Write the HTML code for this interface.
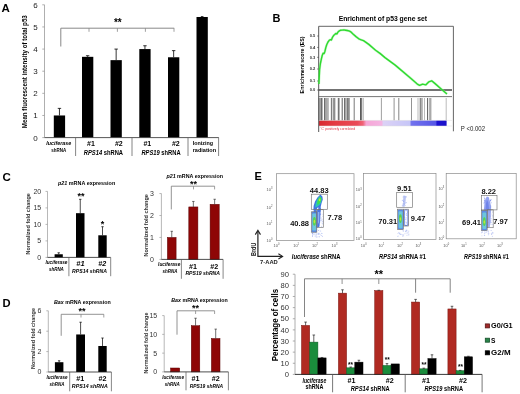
<!DOCTYPE html>
<html><head><meta charset="utf-8"><style>
html,body{margin:0;padding:0;background:#fff;width:520px;height:394px;overflow:hidden}
svg{display:block;font-family:"Liberation Sans",sans-serif;filter:blur(0.3px)}
</style></head><body>
<svg width="520" height="394" viewBox="0 0 520 394">
<rect width="520" height="394" fill="#fff"/>
<text x="1.60" y="11.60" font-size="11.5" font-weight="bold">A</text>
<line x1="44.50" y1="4.80" x2="44.50" y2="137.60" stroke="#9a9a9a" stroke-width="0.8"/>
<line x1="42.30" y1="137.60" x2="44.50" y2="137.60" stroke="#9a9a9a" stroke-width="0.8"/>
<text x="37.60" y="140.60" font-size="8.0" text-anchor="end" fill="#222">0</text>
<line x1="42.30" y1="115.47" x2="44.50" y2="115.47" stroke="#9a9a9a" stroke-width="0.8"/>
<text x="37.60" y="118.47" font-size="8.0" text-anchor="end" fill="#222">1</text>
<line x1="42.30" y1="93.34" x2="44.50" y2="93.34" stroke="#9a9a9a" stroke-width="0.8"/>
<text x="37.60" y="96.34" font-size="8.0" text-anchor="end" fill="#222">2</text>
<line x1="42.30" y1="71.21" x2="44.50" y2="71.21" stroke="#9a9a9a" stroke-width="0.8"/>
<text x="37.60" y="74.21" font-size="8.0" text-anchor="end" fill="#222">3</text>
<line x1="42.30" y1="49.08" x2="44.50" y2="49.08" stroke="#9a9a9a" stroke-width="0.8"/>
<text x="37.60" y="52.08" font-size="8.0" text-anchor="end" fill="#222">4</text>
<line x1="42.30" y1="26.95" x2="44.50" y2="26.95" stroke="#9a9a9a" stroke-width="0.8"/>
<text x="37.60" y="29.95" font-size="8.0" text-anchor="end" fill="#222">5</text>
<line x1="42.30" y1="4.82" x2="44.50" y2="4.82" stroke="#9a9a9a" stroke-width="0.8"/>
<text x="37.60" y="7.82" font-size="8.0" text-anchor="end" fill="#222">6</text>
<text x="26.60" y="128.20" font-size="7.4" font-weight="bold" textLength="113.00" lengthAdjust="spacingAndGlyphs" transform="rotate(-90 26.60 128.20)">Mean fluorescent intensity of total p53</text>
<rect x="53.80" y="115.47" width="11.30" height="22.13" fill="#000"/>
<line x1="59.45" y1="115.47" x2="59.45" y2="108.39" stroke="#000" stroke-width="0.8"/>
<line x1="57.75" y1="108.39" x2="61.15" y2="108.39" stroke="#000" stroke-width="0.8"/>
<rect x="82.00" y="56.83" width="11.30" height="80.77" fill="#000"/>
<line x1="87.65" y1="56.83" x2="87.65" y2="55.72" stroke="#000" stroke-width="0.8"/>
<line x1="85.95" y1="55.72" x2="89.35" y2="55.72" stroke="#000" stroke-width="0.8"/>
<rect x="110.50" y="60.14" width="11.30" height="77.45" fill="#000"/>
<line x1="116.15" y1="60.14" x2="116.15" y2="49.08" stroke="#000" stroke-width="0.8"/>
<line x1="114.45" y1="49.08" x2="117.85" y2="49.08" stroke="#000" stroke-width="0.8"/>
<rect x="139.30" y="49.08" width="11.30" height="88.52" fill="#000"/>
<line x1="144.95" y1="49.08" x2="144.95" y2="45.76" stroke="#000" stroke-width="0.8"/>
<line x1="143.25" y1="45.76" x2="146.65" y2="45.76" stroke="#000" stroke-width="0.8"/>
<rect x="168.00" y="57.27" width="11.30" height="80.33" fill="#000"/>
<line x1="173.65" y1="57.27" x2="173.65" y2="50.63" stroke="#000" stroke-width="0.8"/>
<line x1="171.95" y1="50.63" x2="175.35" y2="50.63" stroke="#000" stroke-width="0.8"/>
<rect x="196.50" y="16.99" width="11.30" height="120.61" fill="#000"/>
<line x1="200.85" y1="16.55" x2="203.45" y2="16.55" stroke="#000" stroke-width="0.8"/>
<line x1="44.50" y1="137.60" x2="218.80" y2="137.60" stroke="#444" stroke-width="0.9"/>
<line x1="75.60" y1="137.60" x2="75.60" y2="156.00" stroke="#666" stroke-width="0.8"/>
<line x1="132.00" y1="137.60" x2="132.00" y2="156.00" stroke="#666" stroke-width="0.8"/>
<line x1="188.00" y1="137.60" x2="188.00" y2="156.00" stroke="#666" stroke-width="0.8"/>
<line x1="218.60" y1="137.60" x2="218.60" y2="156.00" stroke="#666" stroke-width="0.8"/>
<line x1="60.80" y1="28.20" x2="174.20" y2="28.20" stroke="#888" stroke-width="1.0"/>
<line x1="60.80" y1="28.20" x2="60.80" y2="46.50" stroke="#888" stroke-width="1.0"/>
<line x1="89.00" y1="28.20" x2="89.00" y2="31.80" stroke="#888" stroke-width="0.8"/>
<line x1="117.40" y1="28.20" x2="117.40" y2="31.80" stroke="#888" stroke-width="0.8"/>
<line x1="145.40" y1="28.20" x2="145.40" y2="31.80" stroke="#888" stroke-width="0.8"/>
<line x1="174.00" y1="28.20" x2="174.00" y2="31.80" stroke="#888" stroke-width="0.8"/>
<text x="117.80" y="25.60" font-size="10" font-weight="bold" text-anchor="middle">**</text>
<text x="58.80" y="144.80" font-size="5.8" font-weight="bold" font-style="italic" text-anchor="middle" textLength="25.00" lengthAdjust="spacingAndGlyphs">luciferase</text>
<text x="58.80" y="152.20" font-size="5.8" font-weight="bold" text-anchor="middle" textLength="15.00" lengthAdjust="spacingAndGlyphs">shRNA</text>
<text x="91.00" y="146.00" font-size="7" font-weight="bold" text-anchor="middle">#1</text>
<text x="118.80" y="146.00" font-size="7" font-weight="bold" text-anchor="middle">#2</text>
<text x="103.40" y="154.60" font-size="6.6" font-weight="bold" text-anchor="middle" textLength="39.20" lengthAdjust="spacingAndGlyphs"><tspan font-style="italic">RPS14</tspan> shRNA</text>
<text x="147.30" y="146.00" font-size="7" font-weight="bold" text-anchor="middle">#1</text>
<text x="175.80" y="146.00" font-size="7" font-weight="bold" text-anchor="middle">#2</text>
<text x="161.00" y="154.60" font-size="6.6" font-weight="bold" text-anchor="middle" textLength="39.20" lengthAdjust="spacingAndGlyphs"><tspan font-style="italic">RPS19</tspan> shRNA</text>
<text x="192.70" y="145.00" font-size="5.8" font-weight="bold" textLength="20.30" lengthAdjust="spacingAndGlyphs">Ionizing</text>
<text x="192.70" y="152.00" font-size="5.8" font-weight="bold" textLength="23.40" lengthAdjust="spacingAndGlyphs">radiation</text>
<text x="272.40" y="21.80" font-size="11" font-weight="bold">B</text>
<text x="338.70" y="21.10" font-size="7.4" font-weight="bold" textLength="88.40" lengthAdjust="spacingAndGlyphs">Enrichment of p53 gene set</text>
<defs><linearGradient id="cb" x1="0" x2="1" y1="0" y2="0"><stop offset="0" stop-color="#d82830"/><stop offset="0.12" stop-color="#e43a42"/><stop offset="0.30" stop-color="#ea4a58"/><stop offset="0.345" stop-color="#f06478"/><stop offset="0.37" stop-color="#f6a6d6"/><stop offset="0.49" stop-color="#f4b4e2"/><stop offset="0.505" stop-color="#dcd2f6"/><stop offset="0.71" stop-color="#c6c6f8"/><stop offset="0.725" stop-color="#7272ee"/><stop offset="0.915" stop-color="#5656e6"/><stop offset="0.925" stop-color="#1c12d2"/><stop offset="1" stop-color="#1a10c8"/></linearGradient></defs>
<rect x="319.00" y="120.40" width="127.60" height="5.60" fill="url(#cb)"/>
<line x1="319.00" y1="120.40" x2="452.00" y2="120.40" stroke="#ddd" stroke-width="0.5"/>
<line x1="319.00" y1="126.00" x2="452.00" y2="126.00" stroke="#ddd" stroke-width="0.5"/>
<line x1="319.00" y1="98.00" x2="319.00" y2="120.20" stroke="#888" stroke-width="0.8"/>
<line x1="319.80" y1="98.00" x2="319.80" y2="120.20" stroke="#888" stroke-width="0.8"/>
<line x1="320.60" y1="98.00" x2="320.60" y2="120.20" stroke="#888" stroke-width="0.8"/>
<line x1="321.50" y1="98.00" x2="321.50" y2="120.20" stroke="#444" stroke-width="0.8"/>
<line x1="322.30" y1="98.00" x2="322.30" y2="120.20" stroke="#888" stroke-width="0.8"/>
<line x1="324.50" y1="98.00" x2="324.50" y2="120.20" stroke="#444" stroke-width="0.8"/>
<line x1="325.40" y1="98.00" x2="325.40" y2="120.20" stroke="#888" stroke-width="0.8"/>
<line x1="326.30" y1="98.00" x2="326.30" y2="120.20" stroke="#888" stroke-width="0.8"/>
<line x1="327.20" y1="98.00" x2="327.20" y2="120.20" stroke="#888" stroke-width="0.8"/>
<line x1="328.20" y1="98.00" x2="328.20" y2="120.20" stroke="#888" stroke-width="0.8"/>
<line x1="331.40" y1="98.00" x2="331.40" y2="120.20" stroke="#333" stroke-width="0.8"/>
<line x1="332.00" y1="98.00" x2="332.00" y2="120.20" stroke="#999" stroke-width="0.8"/>
<line x1="333.60" y1="98.00" x2="333.60" y2="120.20" stroke="#888" stroke-width="0.8"/>
<line x1="334.30" y1="98.00" x2="334.30" y2="120.20" stroke="#444" stroke-width="0.8"/>
<line x1="335.00" y1="98.00" x2="335.00" y2="120.20" stroke="#999" stroke-width="0.8"/>
<line x1="338.30" y1="98.00" x2="338.30" y2="120.20" stroke="#555" stroke-width="0.8"/>
<line x1="339.00" y1="98.00" x2="339.00" y2="120.20" stroke="#444" stroke-width="0.8"/>
<line x1="342.20" y1="98.00" x2="342.20" y2="120.20" stroke="#333" stroke-width="0.8"/>
<line x1="344.60" y1="98.00" x2="344.60" y2="120.20" stroke="#333" stroke-width="0.8"/>
<line x1="345.50" y1="98.00" x2="345.50" y2="120.20" stroke="#999" stroke-width="0.8"/>
<line x1="346.40" y1="98.00" x2="346.40" y2="120.20" stroke="#999" stroke-width="0.8"/>
<line x1="347.60" y1="98.00" x2="347.60" y2="120.20" stroke="#444" stroke-width="0.8"/>
<line x1="348.40" y1="98.00" x2="348.40" y2="120.20" stroke="#999" stroke-width="0.8"/>
<line x1="349.10" y1="98.00" x2="349.10" y2="120.20" stroke="#444" stroke-width="0.8"/>
<line x1="354.20" y1="98.00" x2="354.20" y2="120.20" stroke="#555" stroke-width="0.8"/>
<line x1="360.50" y1="98.00" x2="360.50" y2="120.20" stroke="#333" stroke-width="0.8"/>
<line x1="361.40" y1="98.00" x2="361.40" y2="120.20" stroke="#444" stroke-width="0.8"/>
<line x1="363.10" y1="98.00" x2="363.10" y2="120.20" stroke="#888" stroke-width="0.8"/>
<line x1="381.40" y1="98.00" x2="381.40" y2="120.20" stroke="#888" stroke-width="0.8"/>
<line x1="394.10" y1="98.00" x2="394.10" y2="120.20" stroke="#777" stroke-width="0.8"/>
<line x1="398.80" y1="98.00" x2="398.80" y2="120.20" stroke="#666" stroke-width="0.8"/>
<line x1="411.50" y1="98.00" x2="411.50" y2="120.20" stroke="#777" stroke-width="0.8"/>
<line x1="418.00" y1="98.00" x2="418.00" y2="120.20" stroke="#aaa" stroke-width="0.8"/>
<line x1="420.20" y1="98.00" x2="420.20" y2="120.20" stroke="#555" stroke-width="0.8"/>
<line x1="421.00" y1="98.00" x2="421.00" y2="120.20" stroke="#666" stroke-width="0.8"/>
<line x1="422.20" y1="98.00" x2="422.20" y2="120.20" stroke="#888" stroke-width="0.8"/>
<line x1="424.50" y1="98.00" x2="424.50" y2="120.20" stroke="#aaa" stroke-width="0.8"/>
<line x1="427.50" y1="98.00" x2="427.50" y2="120.20" stroke="#444" stroke-width="0.8"/>
<line x1="429.30" y1="98.00" x2="429.30" y2="120.20" stroke="#888" stroke-width="0.8"/>
<line x1="430.80" y1="98.00" x2="430.80" y2="120.20" stroke="#666" stroke-width="0.8"/>
<line x1="446.20" y1="98.00" x2="446.20" y2="120.20" stroke="#aaa" stroke-width="0.8"/>
<line x1="318.70" y1="26.30" x2="453.40" y2="26.30" stroke="#555" stroke-width="0.9"/>
<line x1="318.70" y1="26.30" x2="318.70" y2="132.00" stroke="#444" stroke-width="0.9"/>
<line x1="453.40" y1="26.30" x2="453.40" y2="131.30" stroke="#555" stroke-width="0.9"/>
<line x1="318.70" y1="90.00" x2="452.00" y2="90.00" stroke="#444" stroke-width="1.3"/>
<line x1="318.70" y1="96.60" x2="452.00" y2="96.60" stroke="#666" stroke-width="0.9"/>
<line x1="317.20" y1="36.00" x2="318.70" y2="36.00" stroke="#444" stroke-width="0.7"/>
<text x="315.20" y="37.40" font-size="4.0" font-weight="bold" text-anchor="end" fill="#333">0.5</text>
<line x1="317.20" y1="47.40" x2="318.70" y2="47.40" stroke="#444" stroke-width="0.7"/>
<text x="315.20" y="48.80" font-size="4.0" font-weight="bold" text-anchor="end" fill="#333">0.4</text>
<line x1="317.20" y1="57.30" x2="318.70" y2="57.30" stroke="#444" stroke-width="0.7"/>
<text x="315.20" y="58.70" font-size="4.0" font-weight="bold" text-anchor="end" fill="#333">0.3</text>
<line x1="317.20" y1="69.00" x2="318.70" y2="69.00" stroke="#444" stroke-width="0.7"/>
<text x="315.20" y="70.40" font-size="4.0" font-weight="bold" text-anchor="end" fill="#333">0.2</text>
<line x1="317.20" y1="81.00" x2="318.70" y2="81.00" stroke="#444" stroke-width="0.7"/>
<text x="315.20" y="82.40" font-size="4.0" font-weight="bold" text-anchor="end" fill="#333">0.1</text>
<line x1="317.20" y1="90.00" x2="318.70" y2="90.00" stroke="#444" stroke-width="0.7"/>
<text x="315.20" y="91.40" font-size="4.0" font-weight="bold" text-anchor="end" fill="#333">0.0</text>
<text x="304.50" y="93.40" font-size="6.2" font-weight="bold" textLength="57.00" lengthAdjust="spacingAndGlyphs" transform="rotate(-90 304.50 93.40)">Enrichment score (ES)</text>
<path d="M318.9,84.0 L319.6,69.5 L320.4,63.5 L321.4,58.8 L322.2,55.5 L323.1,53.3 L324.1,53.6 L324.9,51.4 L325.8,47.6 L326.7,44.8 L328.0,42.0 L329.4,40.1 L330.6,39.6 L331.4,40.0 L332.4,37.4 L333.6,35.6 L334.7,34.6 L335.9,33.4 L336.9,34.0 L338.0,32.0 L339.2,30.9 L340.4,30.3 L342.0,30.1 L343.9,29.9 L345.5,30.2 L347.3,30.5 L349.6,31.2 L351.2,32.2 L353.0,34.0 L356.0,36.6 L359.4,39.2 L361.2,39.8 L363.5,40.6 L366.0,42.4 L368.8,44.4 L375.6,50.3 L380.0,53.4 L385.0,57.6 L395.2,65.1 L410.4,78.0 L417.3,84.1 L419.6,85.4 L422.6,84.1 L425.7,84.9 L428.7,81.9 L431.7,80.8 L434.8,83.4 L440.9,88.7 L447.0,94.0" stroke="#8cf08c" stroke-width="2.4" fill="none" stroke-linejoin="round" opacity="0.5"/>
<path d="M318.9,84.0 L319.6,69.5 L320.4,63.5 L321.4,58.8 L322.2,55.5 L323.1,53.3 L324.1,53.6 L324.9,51.4 L325.8,47.6 L326.7,44.8 L328.0,42.0 L329.4,40.1 L330.6,39.6 L331.4,40.0 L332.4,37.4 L333.6,35.6 L334.7,34.6 L335.9,33.4 L336.9,34.0 L338.0,32.0 L339.2,30.9 L340.4,30.3 L342.0,30.1 L343.9,29.9 L345.5,30.2 L347.3,30.5 L349.6,31.2 L351.2,32.2 L353.0,34.0 L356.0,36.6 L359.4,39.2 L361.2,39.8 L363.5,40.6 L366.0,42.4 L368.8,44.4 L375.6,50.3 L380.0,53.4 L385.0,57.6 L395.2,65.1 L410.4,78.0 L417.3,84.1 L419.6,85.4 L422.6,84.1 L425.7,84.9 L428.7,81.9 L431.7,80.8 L434.8,83.4 L440.9,88.7 L447.0,94.0" stroke="#2fd92f" stroke-width="1.4" fill="none" stroke-linejoin="round"/>
<text x="320.40" y="129.80" font-size="3.2" fill="#e03040" textLength="34.70" lengthAdjust="spacingAndGlyphs">‘C’ positively correlated</text>
<text x="460.80" y="130.60" font-size="6.6" fill="#222" textLength="24.30" lengthAdjust="spacingAndGlyphs">P &lt;0.002</text>
<line x1="47.50" y1="191.40" x2="47.50" y2="257.40" stroke="#9a9a9a" stroke-width="0.7"/>
<line x1="45.50" y1="257.40" x2="47.50" y2="257.40" stroke="#9a9a9a" stroke-width="0.7"/>
<text x="41.20" y="259.80" font-size="7.0" text-anchor="end" fill="#333">0</text>
<line x1="45.50" y1="240.90" x2="47.50" y2="240.90" stroke="#9a9a9a" stroke-width="0.7"/>
<text x="41.20" y="243.30" font-size="7.0" text-anchor="end" fill="#333">5</text>
<line x1="45.50" y1="224.40" x2="47.50" y2="224.40" stroke="#9a9a9a" stroke-width="0.7"/>
<text x="41.20" y="226.80" font-size="7.0" text-anchor="end" fill="#333">10</text>
<line x1="45.50" y1="207.90" x2="47.50" y2="207.90" stroke="#9a9a9a" stroke-width="0.7"/>
<text x="41.20" y="210.30" font-size="7.0" text-anchor="end" fill="#333">15</text>
<line x1="45.50" y1="191.40" x2="47.50" y2="191.40" stroke="#9a9a9a" stroke-width="0.7"/>
<text x="41.20" y="193.80" font-size="7.0" text-anchor="end" fill="#333">20</text>
<text x="29.80" y="254.40" font-size="6.0" font-weight="bold" fill="#333" textLength="61.30" lengthAdjust="spacingAndGlyphs" transform="rotate(-90 29.80 254.40)">Normalized fold change</text>
<rect x="54.60" y="254.26" width="8.20" height="3.13" fill="#000"/>
<line x1="58.70" y1="254.26" x2="58.70" y2="252.78" stroke="#000" stroke-width="0.7"/>
<line x1="57.50" y1="252.78" x2="59.90" y2="252.78" stroke="#000" stroke-width="0.7"/>
<rect x="76.00" y="213.18" width="8.50" height="44.22" fill="#000"/>
<line x1="80.25" y1="213.18" x2="80.25" y2="199.32" stroke="#000" stroke-width="0.7"/>
<line x1="79.05" y1="199.32" x2="81.45" y2="199.32" stroke="#000" stroke-width="0.7"/>
<rect x="98.30" y="235.29" width="8.40" height="22.11" fill="#000"/>
<line x1="102.50" y1="235.29" x2="102.50" y2="226.71" stroke="#000" stroke-width="0.7"/>
<line x1="101.30" y1="226.71" x2="103.70" y2="226.71" stroke="#000" stroke-width="0.7"/>
<line x1="47.50" y1="257.40" x2="110.70" y2="257.40" stroke="#222" stroke-width="0.8"/>
<line x1="68.90" y1="257.40" x2="68.90" y2="276.20" stroke="#555" stroke-width="0.7"/>
<line x1="110.70" y1="257.40" x2="110.70" y2="276.20" stroke="#555" stroke-width="0.7"/>
<text x="58.00" y="184.80" font-size="6.0" font-weight="bold" textLength="57.20" lengthAdjust="spacingAndGlyphs"><tspan font-style="italic">p21</tspan> mRNA expression</text>
<text x="81.00" y="199.40" font-size="9.0" font-weight="bold" text-anchor="middle">**</text>
<text x="102.50" y="226.80" font-size="9.0" font-weight="bold" text-anchor="middle">*</text>
<text x="56.40" y="264.40" font-size="5.6" font-weight="bold" font-style="italic" text-anchor="middle" textLength="22.00" lengthAdjust="spacingAndGlyphs">luciferase</text>
<text x="56.40" y="271.00" font-size="5.6" font-weight="bold" font-style="italic" text-anchor="middle" textLength="14.90" lengthAdjust="spacingAndGlyphs">shRNA</text>
<text x="80.40" y="266.00" font-size="7.2" font-weight="bold" font-style="italic" text-anchor="middle" textLength="8.40" lengthAdjust="spacingAndGlyphs">#1</text>
<text x="102.20" y="266.00" font-size="7.2" font-weight="bold" font-style="italic" text-anchor="middle" textLength="8.00" lengthAdjust="spacingAndGlyphs">#2</text>
<text x="89.50" y="272.60" font-size="6.0" font-weight="bold" font-style="italic" text-anchor="middle" textLength="34.90" lengthAdjust="spacingAndGlyphs">RPS14 shRNA</text>
<line x1="161.40" y1="193.55" x2="161.40" y2="259.40" stroke="#9a9a9a" stroke-width="0.7"/>
<line x1="159.40" y1="259.40" x2="161.40" y2="259.40" stroke="#9a9a9a" stroke-width="0.7"/>
<text x="153.80" y="261.80" font-size="7.0" text-anchor="end" fill="#333">0</text>
<line x1="159.40" y1="237.45" x2="161.40" y2="237.45" stroke="#9a9a9a" stroke-width="0.7"/>
<text x="153.80" y="239.85" font-size="7.0" text-anchor="end" fill="#333">1</text>
<line x1="159.40" y1="215.50" x2="161.40" y2="215.50" stroke="#9a9a9a" stroke-width="0.7"/>
<text x="153.80" y="217.90" font-size="7.0" text-anchor="end" fill="#333">2</text>
<line x1="159.40" y1="193.55" x2="161.40" y2="193.55" stroke="#9a9a9a" stroke-width="0.7"/>
<text x="153.80" y="195.95" font-size="7.0" text-anchor="end" fill="#333">3</text>
<text x="148.40" y="256.50" font-size="6.0" font-weight="bold" fill="#333" textLength="62.40" lengthAdjust="spacingAndGlyphs" transform="rotate(-90 148.40 256.50)">Normalized fold change</text>
<rect x="167.40" y="237.45" width="8.70" height="21.95" fill="#8e0606" stroke="#5a0000" stroke-width="0.5"/>
<line x1="171.75" y1="237.45" x2="171.75" y2="231.30" stroke="#333" stroke-width="0.7"/>
<line x1="170.55" y1="231.30" x2="172.95" y2="231.30" stroke="#333" stroke-width="0.7"/>
<rect x="188.80" y="206.94" width="9.10" height="52.46" fill="#8e0606" stroke="#5a0000" stroke-width="0.5"/>
<line x1="193.35" y1="206.94" x2="193.35" y2="201.45" stroke="#333" stroke-width="0.7"/>
<line x1="192.15" y1="201.45" x2="194.55" y2="201.45" stroke="#333" stroke-width="0.7"/>
<rect x="210.10" y="204.31" width="9.10" height="55.09" fill="#8e0606" stroke="#5a0000" stroke-width="0.5"/>
<line x1="214.65" y1="204.31" x2="214.65" y2="199.26" stroke="#333" stroke-width="0.7"/>
<line x1="213.45" y1="199.26" x2="215.85" y2="199.26" stroke="#333" stroke-width="0.7"/>
<line x1="161.40" y1="259.40" x2="223.10" y2="259.40" stroke="#222" stroke-width="0.8"/>
<line x1="181.40" y1="259.40" x2="181.40" y2="278.80" stroke="#555" stroke-width="0.7"/>
<line x1="223.10" y1="259.40" x2="223.10" y2="278.80" stroke="#555" stroke-width="0.7"/>
<text x="166.40" y="178.20" font-size="6.0" font-weight="bold" textLength="56.60" lengthAdjust="spacingAndGlyphs"><tspan font-style="italic">p21</tspan> mRNA expression</text>
<line x1="171.30" y1="186.20" x2="214.60" y2="186.20" stroke="#777" stroke-width="0.8"/>
<line x1="171.30" y1="186.20" x2="171.30" y2="209.40" stroke="#777" stroke-width="0.8"/>
<line x1="193.50" y1="186.20" x2="193.50" y2="189.40" stroke="#777" stroke-width="0.7"/>
<line x1="214.60" y1="186.20" x2="214.60" y2="189.40" stroke="#777" stroke-width="0.7"/>
<text x="193.50" y="186.80" font-size="9.0" font-weight="bold" text-anchor="middle">**</text>
<text x="169.20" y="266.00" font-size="5.6" font-weight="bold" font-style="italic" text-anchor="middle" textLength="22.20" lengthAdjust="spacingAndGlyphs">luciferase</text>
<text x="170.00" y="273.20" font-size="5.6" font-weight="bold" font-style="italic" text-anchor="middle" textLength="14.90" lengthAdjust="spacingAndGlyphs">shRNA</text>
<text x="193.00" y="268.60" font-size="7.2" font-weight="bold" text-anchor="middle" textLength="8.00" lengthAdjust="spacingAndGlyphs">#1</text>
<text x="214.20" y="268.60" font-size="7.2" font-weight="bold" text-anchor="middle" textLength="8.00" lengthAdjust="spacingAndGlyphs">#2</text>
<text x="202.70" y="275.00" font-size="6.0" font-weight="bold" font-style="italic" text-anchor="middle" textLength="34.60" lengthAdjust="spacingAndGlyphs">RPS19 shRNA</text>
<text x="2.60" y="180.60" font-size="11.5" font-weight="bold">C</text>
<text x="2.60" y="307.00" font-size="11.2" font-weight="bold">D</text>
<line x1="48.30" y1="310.80" x2="48.30" y2="372.00" stroke="#9a9a9a" stroke-width="0.7"/>
<line x1="46.30" y1="372.00" x2="48.30" y2="372.00" stroke="#9a9a9a" stroke-width="0.7"/>
<text x="41.40" y="374.40" font-size="7.0" text-anchor="end" fill="#333">0</text>
<line x1="46.30" y1="351.60" x2="48.30" y2="351.60" stroke="#9a9a9a" stroke-width="0.7"/>
<text x="41.40" y="354.00" font-size="7.0" text-anchor="end" fill="#333">2</text>
<line x1="46.30" y1="331.20" x2="48.30" y2="331.20" stroke="#9a9a9a" stroke-width="0.7"/>
<text x="41.40" y="333.60" font-size="7.0" text-anchor="end" fill="#333">4</text>
<line x1="46.30" y1="310.80" x2="48.30" y2="310.80" stroke="#9a9a9a" stroke-width="0.7"/>
<text x="41.40" y="313.20" font-size="7.0" text-anchor="end" fill="#333">6</text>
<text x="35.10" y="369.00" font-size="6.0" font-weight="bold" fill="#333" textLength="60.90" lengthAdjust="spacingAndGlyphs" transform="rotate(-90 35.10 369.00)">Normalized fold change</text>
<rect x="54.90" y="362.21" width="8.50" height="9.79" fill="#000"/>
<line x1="59.15" y1="362.21" x2="59.15" y2="360.78" stroke="#000" stroke-width="0.7"/>
<line x1="57.95" y1="360.78" x2="60.35" y2="360.78" stroke="#000" stroke-width="0.7"/>
<rect x="76.20" y="334.46" width="8.80" height="37.54" fill="#000"/>
<line x1="80.60" y1="334.46" x2="80.60" y2="322.22" stroke="#000" stroke-width="0.7"/>
<line x1="79.40" y1="322.22" x2="81.80" y2="322.22" stroke="#000" stroke-width="0.7"/>
<rect x="98.30" y="345.99" width="8.40" height="26.01" fill="#000"/>
<line x1="102.50" y1="345.99" x2="102.50" y2="338.03" stroke="#000" stroke-width="0.7"/>
<line x1="101.30" y1="338.03" x2="103.70" y2="338.03" stroke="#000" stroke-width="0.7"/>
<line x1="48.30" y1="372.00" x2="111.40" y2="372.00" stroke="#222" stroke-width="0.8"/>
<line x1="69.70" y1="372.00" x2="69.70" y2="391.30" stroke="#555" stroke-width="0.7"/>
<line x1="111.40" y1="372.00" x2="111.40" y2="391.30" stroke="#555" stroke-width="0.7"/>
<text x="54.00" y="303.60" font-size="6.0" font-weight="bold" textLength="56.80" lengthAdjust="spacingAndGlyphs"><tspan font-style="italic">Bax</tspan> mRNA expression</text>
<line x1="61.20" y1="314.30" x2="103.80" y2="314.30" stroke="#777" stroke-width="0.8"/>
<line x1="61.20" y1="314.30" x2="61.20" y2="335.80" stroke="#777" stroke-width="0.8"/>
<line x1="81.00" y1="314.30" x2="81.00" y2="317.50" stroke="#777" stroke-width="0.7"/>
<line x1="103.80" y1="314.30" x2="103.80" y2="317.50" stroke="#777" stroke-width="0.7"/>
<text x="82.00" y="313.80" font-size="9.0" font-weight="bold" text-anchor="middle">**</text>
<text x="57.00" y="379.40" font-size="5.6" font-weight="bold" font-style="italic" text-anchor="middle" textLength="21.20" lengthAdjust="spacingAndGlyphs">luciferase</text>
<text x="57.00" y="386.20" font-size="5.6" font-weight="bold" font-style="italic" text-anchor="middle" textLength="14.90" lengthAdjust="spacingAndGlyphs">shRNA</text>
<text x="80.30" y="380.60" font-size="7.2" font-weight="bold" text-anchor="middle" textLength="8.00" lengthAdjust="spacingAndGlyphs">#1</text>
<text x="102.50" y="380.60" font-size="7.2" font-weight="bold" text-anchor="middle" textLength="8.00" lengthAdjust="spacingAndGlyphs">#2</text>
<text x="89.80" y="388.00" font-size="6.0" font-weight="bold" font-style="italic" text-anchor="middle" textLength="36.00" lengthAdjust="spacingAndGlyphs">RPS14 shRNA</text>
<line x1="164.20" y1="315.60" x2="164.20" y2="371.90" stroke="#9a9a9a" stroke-width="0.7"/>
<line x1="162.20" y1="371.90" x2="164.20" y2="371.90" stroke="#9a9a9a" stroke-width="0.7"/>
<text x="157.20" y="374.30" font-size="7.0" text-anchor="end" fill="#333">0</text>
<line x1="162.20" y1="353.13" x2="164.20" y2="353.13" stroke="#9a9a9a" stroke-width="0.7"/>
<text x="157.20" y="355.53" font-size="7.0" text-anchor="end" fill="#333">5</text>
<line x1="162.20" y1="334.37" x2="164.20" y2="334.37" stroke="#9a9a9a" stroke-width="0.7"/>
<text x="157.20" y="336.77" font-size="7.0" text-anchor="end" fill="#333">10</text>
<line x1="162.20" y1="315.60" x2="164.20" y2="315.60" stroke="#9a9a9a" stroke-width="0.7"/>
<text x="157.20" y="318.00" font-size="7.0" text-anchor="end" fill="#333">15</text>
<text x="147.80" y="373.50" font-size="6.0" font-weight="bold" fill="#333" textLength="60.90" lengthAdjust="spacingAndGlyphs" transform="rotate(-90 147.80 373.50)">Normalized fold change</text>
<rect x="170.60" y="368.00" width="9.10" height="3.90" fill="#8e0606" stroke="#5a0000" stroke-width="0.5"/>
<rect x="191.30" y="325.74" width="8.50" height="46.16" fill="#8e0606" stroke="#5a0000" stroke-width="0.5"/>
<line x1="195.55" y1="325.74" x2="195.55" y2="318.23" stroke="#333" stroke-width="0.7"/>
<line x1="194.35" y1="318.23" x2="196.75" y2="318.23" stroke="#333" stroke-width="0.7"/>
<rect x="211.40" y="338.50" width="8.60" height="33.40" fill="#8e0606" stroke="#5a0000" stroke-width="0.5"/>
<line x1="215.70" y1="338.50" x2="215.70" y2="329.12" stroke="#333" stroke-width="0.7"/>
<line x1="214.50" y1="329.12" x2="216.90" y2="329.12" stroke="#333" stroke-width="0.7"/>
<line x1="164.20" y1="371.90" x2="228.40" y2="371.90" stroke="#222" stroke-width="0.8"/>
<line x1="186.00" y1="371.90" x2="186.00" y2="390.30" stroke="#555" stroke-width="0.7"/>
<line x1="228.40" y1="371.90" x2="228.40" y2="390.30" stroke="#555" stroke-width="0.7"/>
<text x="171.30" y="302.40" font-size="6.0" font-weight="bold" textLength="56.40" lengthAdjust="spacingAndGlyphs"><tspan font-style="italic">Bax</tspan> mRNA expression</text>
<line x1="177.00" y1="310.80" x2="214.60" y2="310.80" stroke="#777" stroke-width="0.8"/>
<line x1="177.00" y1="310.80" x2="177.00" y2="334.70" stroke="#777" stroke-width="0.8"/>
<line x1="195.60" y1="310.80" x2="195.60" y2="314.00" stroke="#777" stroke-width="0.7"/>
<line x1="214.60" y1="310.80" x2="214.60" y2="314.00" stroke="#777" stroke-width="0.7"/>
<text x="195.60" y="311.40" font-size="9.0" font-weight="bold" text-anchor="middle">**</text>
<text x="173.10" y="378.80" font-size="5.6" font-weight="bold" font-style="italic" text-anchor="middle" textLength="21.80" lengthAdjust="spacingAndGlyphs">luciferase</text>
<text x="172.30" y="385.80" font-size="5.6" font-weight="bold" font-style="italic" text-anchor="middle" textLength="14.90" lengthAdjust="spacingAndGlyphs">shRNA</text>
<text x="195.60" y="380.60" font-size="7.2" font-weight="bold" text-anchor="middle" textLength="8.00" lengthAdjust="spacingAndGlyphs">#1</text>
<text x="215.70" y="380.60" font-size="7.2" font-weight="bold" text-anchor="middle" textLength="8.00" lengthAdjust="spacingAndGlyphs">#2</text>
<text x="206.40" y="388.00" font-size="6.0" font-weight="bold" font-style="italic" text-anchor="middle" textLength="33.30" lengthAdjust="spacingAndGlyphs">RPS19 shRNA</text>
<line x1="295.00" y1="274.23" x2="295.00" y2="374.40" stroke="#9a9a9a" stroke-width="0.8"/>
<line x1="292.80" y1="374.40" x2="295.00" y2="374.40" stroke="#9a9a9a" stroke-width="0.8"/>
<text x="289.00" y="377.10" font-size="7.6" text-anchor="end" fill="#333">0</text>
<line x1="292.80" y1="363.27" x2="295.00" y2="363.27" stroke="#9a9a9a" stroke-width="0.8"/>
<text x="289.00" y="365.97" font-size="7.6" text-anchor="end" fill="#333">10</text>
<line x1="292.80" y1="352.14" x2="295.00" y2="352.14" stroke="#9a9a9a" stroke-width="0.8"/>
<text x="289.00" y="354.84" font-size="7.6" text-anchor="end" fill="#333">20</text>
<line x1="292.80" y1="341.01" x2="295.00" y2="341.01" stroke="#9a9a9a" stroke-width="0.8"/>
<text x="289.00" y="343.71" font-size="7.6" text-anchor="end" fill="#333">30</text>
<line x1="292.80" y1="329.88" x2="295.00" y2="329.88" stroke="#9a9a9a" stroke-width="0.8"/>
<text x="289.00" y="332.58" font-size="7.6" text-anchor="end" fill="#333">40</text>
<line x1="292.80" y1="318.75" x2="295.00" y2="318.75" stroke="#9a9a9a" stroke-width="0.8"/>
<text x="289.00" y="321.45" font-size="7.6" text-anchor="end" fill="#333">50</text>
<line x1="292.80" y1="307.62" x2="295.00" y2="307.62" stroke="#9a9a9a" stroke-width="0.8"/>
<text x="289.00" y="310.32" font-size="7.6" text-anchor="end" fill="#333">60</text>
<line x1="292.80" y1="296.49" x2="295.00" y2="296.49" stroke="#9a9a9a" stroke-width="0.8"/>
<text x="289.00" y="299.19" font-size="7.6" text-anchor="end" fill="#333">70</text>
<line x1="292.80" y1="285.36" x2="295.00" y2="285.36" stroke="#9a9a9a" stroke-width="0.8"/>
<text x="289.00" y="288.06" font-size="7.6" text-anchor="end" fill="#333">80</text>
<line x1="292.80" y1="274.23" x2="295.00" y2="274.23" stroke="#9a9a9a" stroke-width="0.8"/>
<text x="289.00" y="276.93" font-size="7.6" text-anchor="end" fill="#333">90</text>
<text x="278.50" y="361.20" font-size="8.4" font-weight="bold" textLength="72.30" lengthAdjust="spacingAndGlyphs" transform="rotate(-90 278.50 361.20)">Percentage of cells</text>
<rect x="301.50" y="325.43" width="8.20" height="48.97" fill="#b02a22" stroke="#7a1410" stroke-width="0.5"/>
<line x1="305.60" y1="325.43" x2="305.60" y2="322.09" stroke="#222" stroke-width="0.7"/>
<line x1="304.30" y1="322.09" x2="306.90" y2="322.09" stroke="#222" stroke-width="0.7"/>
<rect x="309.70" y="342.12" width="8.20" height="32.28" fill="#1a8c3c" stroke="#0c5a24" stroke-width="0.5"/>
<line x1="313.80" y1="342.12" x2="313.80" y2="335.00" stroke="#222" stroke-width="0.7"/>
<line x1="312.50" y1="335.00" x2="315.10" y2="335.00" stroke="#222" stroke-width="0.7"/>
<rect x="317.90" y="357.93" width="8.20" height="16.47" fill="#000" stroke="#000" stroke-width="0.5"/>
<line x1="322.00" y1="357.93" x2="322.00" y2="357.48" stroke="#222" stroke-width="0.7"/>
<line x1="320.70" y1="357.48" x2="323.30" y2="357.48" stroke="#222" stroke-width="0.7"/>
<rect x="338.40" y="293.15" width="8.20" height="81.25" fill="#b02a22" stroke="#7a1410" stroke-width="0.5"/>
<line x1="342.50" y1="293.15" x2="342.50" y2="289.81" stroke="#222" stroke-width="0.7"/>
<line x1="341.20" y1="289.81" x2="343.80" y2="289.81" stroke="#222" stroke-width="0.7"/>
<rect x="346.60" y="367.83" width="8.20" height="6.57" fill="#1a8c3c" stroke="#0c5a24" stroke-width="0.5"/>
<line x1="350.70" y1="367.83" x2="350.70" y2="367.05" stroke="#222" stroke-width="0.7"/>
<line x1="349.40" y1="367.05" x2="352.00" y2="367.05" stroke="#222" stroke-width="0.7"/>
<rect x="354.80" y="362.16" width="8.20" height="12.24" fill="#000" stroke="#000" stroke-width="0.5"/>
<line x1="358.90" y1="362.16" x2="358.90" y2="360.26" stroke="#222" stroke-width="0.7"/>
<line x1="357.60" y1="360.26" x2="360.20" y2="360.26" stroke="#222" stroke-width="0.7"/>
<rect x="374.70" y="290.59" width="8.20" height="83.81" fill="#b02a22" stroke="#7a1410" stroke-width="0.5"/>
<line x1="378.80" y1="290.59" x2="378.80" y2="290.26" stroke="#222" stroke-width="0.7"/>
<line x1="377.50" y1="290.26" x2="380.10" y2="290.26" stroke="#222" stroke-width="0.7"/>
<rect x="382.90" y="365.50" width="8.20" height="8.90" fill="#1a8c3c" stroke="#0c5a24" stroke-width="0.5"/>
<line x1="387.00" y1="365.50" x2="387.00" y2="363.60" stroke="#222" stroke-width="0.7"/>
<line x1="385.70" y1="363.60" x2="388.30" y2="363.60" stroke="#222" stroke-width="0.7"/>
<rect x="391.10" y="363.94" width="8.20" height="10.46" fill="#000" stroke="#000" stroke-width="0.5"/>
<rect x="411.50" y="302.05" width="8.20" height="72.34" fill="#b02a22" stroke="#7a1410" stroke-width="0.5"/>
<line x1="415.60" y1="302.05" x2="415.60" y2="299.38" stroke="#222" stroke-width="0.7"/>
<line x1="414.30" y1="299.38" x2="416.90" y2="299.38" stroke="#222" stroke-width="0.7"/>
<rect x="419.70" y="368.83" width="8.20" height="5.56" fill="#1a8c3c" stroke="#0c5a24" stroke-width="0.5"/>
<line x1="423.80" y1="368.83" x2="423.80" y2="368.17" stroke="#222" stroke-width="0.7"/>
<line x1="422.50" y1="368.17" x2="425.10" y2="368.17" stroke="#222" stroke-width="0.7"/>
<rect x="427.90" y="358.60" width="8.20" height="15.80" fill="#000" stroke="#000" stroke-width="0.5"/>
<line x1="432.00" y1="358.60" x2="432.00" y2="354.81" stroke="#222" stroke-width="0.7"/>
<line x1="430.70" y1="354.81" x2="433.30" y2="354.81" stroke="#222" stroke-width="0.7"/>
<rect x="447.90" y="308.96" width="8.20" height="65.44" fill="#b02a22" stroke="#7a1410" stroke-width="0.5"/>
<line x1="452.00" y1="308.96" x2="452.00" y2="306.28" stroke="#222" stroke-width="0.7"/>
<line x1="450.70" y1="306.28" x2="453.30" y2="306.28" stroke="#222" stroke-width="0.7"/>
<rect x="456.10" y="370.73" width="8.20" height="3.67" fill="#1a8c3c" stroke="#0c5a24" stroke-width="0.5"/>
<line x1="460.20" y1="370.73" x2="460.20" y2="370.39" stroke="#222" stroke-width="0.7"/>
<line x1="458.90" y1="370.39" x2="461.50" y2="370.39" stroke="#222" stroke-width="0.7"/>
<rect x="464.30" y="356.81" width="8.20" height="17.59" fill="#000" stroke="#000" stroke-width="0.5"/>
<line x1="468.40" y1="356.81" x2="468.40" y2="356.26" stroke="#222" stroke-width="0.7"/>
<line x1="467.10" y1="356.26" x2="469.70" y2="356.26" stroke="#222" stroke-width="0.7"/>
<line x1="295.00" y1="374.40" x2="482.10" y2="374.40" stroke="#222" stroke-width="0.9"/>
<line x1="332.60" y1="374.40" x2="332.60" y2="392.30" stroke="#555" stroke-width="0.8"/>
<line x1="405.20" y1="374.40" x2="405.20" y2="392.30" stroke="#555" stroke-width="0.8"/>
<line x1="482.10" y1="374.40" x2="482.10" y2="392.30" stroke="#555" stroke-width="0.8"/>
<line x1="304.50" y1="278.80" x2="450.20" y2="278.80" stroke="#777" stroke-width="0.9"/>
<line x1="304.50" y1="278.80" x2="304.50" y2="317.00" stroke="#777" stroke-width="0.9"/>
<line x1="342.10" y1="278.80" x2="342.10" y2="284.00" stroke="#777" stroke-width="0.8"/>
<line x1="378.80" y1="278.80" x2="378.80" y2="284.00" stroke="#777" stroke-width="0.8"/>
<line x1="415.60" y1="278.80" x2="415.60" y2="292.70" stroke="#777" stroke-width="0.9"/>
<line x1="450.20" y1="278.80" x2="450.20" y2="292.70" stroke="#777" stroke-width="0.9"/>
<text x="378.80" y="278.00" font-size="11" font-weight="bold" text-anchor="middle">**</text>
<text x="350.50" y="366.60" font-size="6.4" font-weight="bold" text-anchor="middle">**</text>
<text x="387.30" y="361.60" font-size="6.4" font-weight="bold" text-anchor="middle">**</text>
<text x="424.00" y="367.20" font-size="6.4" font-weight="bold" text-anchor="middle">**</text>
<text x="460.50" y="369.40" font-size="6.4" font-weight="bold" text-anchor="middle">**</text>
<text x="314.40" y="382.60" font-size="6.8" font-weight="bold" font-style="italic" text-anchor="middle" textLength="23.80" lengthAdjust="spacingAndGlyphs">luciferase</text>
<text x="314.40" y="389.40" font-size="6.8" font-weight="bold" text-anchor="middle" textLength="18.00" lengthAdjust="spacingAndGlyphs">shRNA</text>
<text x="351.60" y="382.80" font-size="7.8" font-weight="bold" text-anchor="middle" textLength="8.00" lengthAdjust="spacingAndGlyphs">#1</text>
<text x="389.80" y="382.80" font-size="7.8" font-weight="bold" text-anchor="middle" textLength="8.00" lengthAdjust="spacingAndGlyphs">#2</text>
<text x="370.20" y="391.40" font-size="6.8" font-weight="bold" text-anchor="middle" textLength="39.00" lengthAdjust="spacingAndGlyphs"><tspan font-style="italic">RPS14</tspan> shRNA</text>
<text x="425.90" y="382.80" font-size="7.8" font-weight="bold" text-anchor="middle" textLength="8.00" lengthAdjust="spacingAndGlyphs">#1</text>
<text x="463.00" y="382.80" font-size="7.8" font-weight="bold" text-anchor="middle" textLength="8.00" lengthAdjust="spacingAndGlyphs">#2</text>
<text x="443.70" y="391.40" font-size="6.8" font-weight="bold" text-anchor="middle" textLength="38.60" lengthAdjust="spacingAndGlyphs"><tspan font-style="italic">RPS19</tspan> shRNA</text>
<rect x="485.30" y="323.90" width="4.30" height="4.00" fill="#a02a2a" stroke="#5a1818" stroke-width="0.8"/>
<text x="491.10" y="328.20" font-size="7.2" font-weight="bold" textLength="21.60" lengthAdjust="spacingAndGlyphs">G0/G1</text>
<rect x="485.30" y="338.20" width="4.30" height="4.00" fill="#2a844a" stroke="#16502a" stroke-width="0.8"/>
<text x="491.10" y="342.50" font-size="7.2" font-weight="bold" textLength="4.40" lengthAdjust="spacingAndGlyphs">S</text>
<rect x="485.30" y="350.80" width="4.30" height="4.00" fill="#000" stroke="#000" stroke-width="0.8"/>
<text x="491.10" y="355.10" font-size="7.2" font-weight="bold" textLength="19.50" lengthAdjust="spacingAndGlyphs">G2/M</text>
<text x="254.40" y="180.00" font-size="11.0" font-weight="bold">E</text>
<defs><filter id="bl" x="-20%" y="-20%" width="140%" height="140%"><feGaussianBlur stdDeviation="0.55"/></filter><filter id="bl2" x="-20%" y="-20%" width="140%" height="140%"><feGaussianBlur stdDeviation="0.9"/></filter></defs>
<rect x="276.5" y="173.7" width="77.50" height="66.70" fill="none" stroke="#8a8a8a" stroke-width="0.7"/>
<rect x="363.4" y="173.6" width="72.60" height="66.00" fill="none" stroke="#8a8a8a" stroke-width="0.7"/>
<rect x="446.2" y="173.5" width="70.00" height="65.30" fill="none" stroke="#8a8a8a" stroke-width="0.7"/>
<text x="272.40" y="190.50" font-size="3.9" text-anchor="end" fill="#555">10<tspan font-size="2.6" dy="-1.6">3</tspan></text>
<text x="272.40" y="208.60" font-size="3.9" text-anchor="end" fill="#555">10<tspan font-size="2.6" dy="-1.6">2</tspan></text>
<text x="272.40" y="224.90" font-size="3.9" text-anchor="end" fill="#555">10<tspan font-size="2.6" dy="-1.6">1</tspan></text>
<text x="272.40" y="241.50" font-size="3.9" text-anchor="end" fill="#555">10<tspan font-size="2.6" dy="-1.6">0</tspan></text>
<text x="279.40" y="247.00" font-size="3.9" text-anchor="end" fill="#555">10<tspan font-size="2.6" dy="-1.6">0</tspan></text>
<text x="299.00" y="247.00" font-size="3.9" text-anchor="end" fill="#555">10<tspan font-size="2.6" dy="-1.6">1</tspan></text>
<text x="317.90" y="247.00" font-size="3.9" text-anchor="end" fill="#555">10<tspan font-size="2.6" dy="-1.6">2</tspan></text>
<text x="337.40" y="247.00" font-size="3.9" text-anchor="end" fill="#555">10<tspan font-size="2.6" dy="-1.6">3</tspan></text>
<text x="361.60" y="191.40" font-size="3.9" text-anchor="end" fill="#555">10<tspan font-size="2.6" dy="-1.6">3</tspan></text>
<text x="361.60" y="207.80" font-size="3.9" text-anchor="end" fill="#555">10<tspan font-size="2.6" dy="-1.6">2</tspan></text>
<text x="361.60" y="224.10" font-size="3.9" text-anchor="end" fill="#555">10<tspan font-size="2.6" dy="-1.6">1</tspan></text>
<text x="361.60" y="240.00" font-size="3.9" text-anchor="end" fill="#555">10<tspan font-size="2.6" dy="-1.6">0</tspan></text>
<text x="366.60" y="247.00" font-size="3.9" text-anchor="end" fill="#555">10<tspan font-size="2.6" dy="-1.6">0</tspan></text>
<text x="384.20" y="247.00" font-size="3.9" text-anchor="end" fill="#555">10<tspan font-size="2.6" dy="-1.6">1</tspan></text>
<text x="402.90" y="247.00" font-size="3.9" text-anchor="end" fill="#555">10<tspan font-size="2.6" dy="-1.6">2</tspan></text>
<text x="421.20" y="247.00" font-size="3.9" text-anchor="end" fill="#555">10<tspan font-size="2.6" dy="-1.6">3</tspan></text>
<text x="444.20" y="190.00" font-size="3.9" text-anchor="end" fill="#555">10<tspan font-size="2.6" dy="-1.6">3</tspan></text>
<text x="444.20" y="207.80" font-size="3.9" text-anchor="end" fill="#555">10<tspan font-size="2.6" dy="-1.6">2</tspan></text>
<text x="444.20" y="224.00" font-size="3.9" text-anchor="end" fill="#555">10<tspan font-size="2.6" dy="-1.6">1</tspan></text>
<text x="444.20" y="239.80" font-size="3.9" text-anchor="end" fill="#555">10<tspan font-size="2.6" dy="-1.6">0</tspan></text>
<text x="449.10" y="247.00" font-size="3.9" text-anchor="end" fill="#555">10<tspan font-size="2.6" dy="-1.6">0</tspan></text>
<text x="466.70" y="247.00" font-size="3.9" text-anchor="end" fill="#555">10<tspan font-size="2.6" dy="-1.6">1</tspan></text>
<text x="484.90" y="247.00" font-size="3.9" text-anchor="end" fill="#555">10<tspan font-size="2.6" dy="-1.6">2</tspan></text>
<text x="502.80" y="247.00" font-size="3.9" text-anchor="end" fill="#555">10<tspan font-size="2.6" dy="-1.6">3</tspan></text>
<g filter="url(#bl)">
<circle cx="315.4" cy="231.1" r="0.5" fill="#8fa6ee" opacity="0.6"/>
<circle cx="312.8" cy="234.0" r="0.5" fill="#7d8fe6" opacity="0.6"/>
<circle cx="318.1" cy="236.8" r="0.5" fill="#a9b8f2" opacity="0.6"/>
<circle cx="312.4" cy="233.3" r="0.5" fill="#8fa6ee" opacity="0.6"/>
<circle cx="314.5" cy="234.1" r="0.5" fill="#8fa6ee" opacity="0.6"/>
<circle cx="320.7" cy="230.9" r="0.5" fill="#a9b8f2" opacity="0.6"/>
<circle cx="318.6" cy="234.4" r="0.5" fill="#8fa6ee" opacity="0.6"/>
<circle cx="318.1" cy="233.0" r="0.5" fill="#a9b8f2" opacity="0.6"/>
<circle cx="312.5" cy="236.4" r="0.5" fill="#7d8fe6" opacity="0.6"/>
<circle cx="316.4" cy="234.1" r="0.5" fill="#6f86e8" opacity="0.6"/>
<circle cx="315.2" cy="236.1" r="0.5" fill="#a9b8f2" opacity="0.6"/>
<circle cx="313.1" cy="234.3" r="0.5" fill="#a9b8f2" opacity="0.6"/>
<circle cx="315.9" cy="234.1" r="0.5" fill="#8fa6ee" opacity="0.6"/>
<circle cx="317.9" cy="234.6" r="0.5" fill="#b9c2f4" opacity="0.6"/>
<circle cx="319.1" cy="233.2" r="0.5" fill="#7d8fe6" opacity="0.6"/>
<circle cx="316.9" cy="236.9" r="0.5" fill="#7d8fe6" opacity="0.6"/>
<circle cx="315.1" cy="236.0" r="0.5" fill="#a9b8f2" opacity="0.6"/>
<circle cx="312.9" cy="232.3" r="0.5" fill="#b9c2f4" opacity="0.6"/>
<circle cx="321.2" cy="235.5" r="0.5" fill="#7d8fe6" opacity="0.6"/>
<circle cx="318.4" cy="230.5" r="0.5" fill="#6f86e8" opacity="0.6"/>
<circle cx="316.4" cy="235.7" r="0.5" fill="#a9b8f2" opacity="0.6"/>
<circle cx="321.8" cy="233.2" r="0.5" fill="#8fa6ee" opacity="0.6"/>
<circle cx="320.0" cy="234.3" r="0.5" fill="#7d8fe6" opacity="0.6"/>
<circle cx="315.6" cy="232.6" r="0.5" fill="#b9c2f4" opacity="0.6"/>
<circle cx="318.1" cy="233.4" r="0.5" fill="#8fa6ee" opacity="0.6"/>
<circle cx="321.9" cy="233.6" r="0.5" fill="#8fa6ee" opacity="0.6"/>
<circle cx="312.6" cy="235.3" r="0.5" fill="#6f86e8" opacity="0.6"/>
<circle cx="322.4" cy="236.2" r="0.5" fill="#7d8fe6" opacity="0.6"/>
<circle cx="319.5" cy="236.7" r="0.5" fill="#7d8fe6" opacity="0.6"/>
<circle cx="312.2" cy="233.5" r="0.5" fill="#a9b8f2" opacity="0.6"/>
<circle cx="318.4" cy="233.7" r="0.5" fill="#a9b8f2" opacity="0.6"/>
<circle cx="320.1" cy="231.0" r="0.5" fill="#a9b8f2" opacity="0.6"/>
<circle cx="316.2" cy="236.9" r="0.5" fill="#b9c2f4" opacity="0.6"/>
<circle cx="312.8" cy="233.4" r="0.5" fill="#6f86e8" opacity="0.6"/>
<circle cx="320.5" cy="214.1" r="0.5" fill="#b9c2f4" opacity="0.5"/>
<circle cx="322.5" cy="216.2" r="0.5" fill="#b9c2f4" opacity="0.5"/>
<circle cx="323.0" cy="222.2" r="0.5" fill="#b9c2f4" opacity="0.5"/>
<circle cx="322.9" cy="214.3" r="0.5" fill="#a9b8f2" opacity="0.5"/>
<circle cx="320.0" cy="221.9" r="0.5" fill="#8fa6ee" opacity="0.5"/>
<circle cx="321.2" cy="220.8" r="0.5" fill="#7d8fe6" opacity="0.5"/>
<circle cx="320.5" cy="214.2" r="0.5" fill="#6f86e8" opacity="0.5"/>
<circle cx="320.8" cy="220.5" r="0.5" fill="#a9b8f2" opacity="0.5"/>
<circle cx="321.9" cy="219.7" r="0.5" fill="#6f86e8" opacity="0.5"/>
<circle cx="321.8" cy="223.1" r="0.5" fill="#b9c2f4" opacity="0.5"/>
<circle cx="322.6" cy="223.7" r="0.5" fill="#6f86e8" opacity="0.5"/>
<circle cx="320.9" cy="218.0" r="0.5" fill="#8fa6ee" opacity="0.5"/>
<circle cx="321.2" cy="218.0" r="0.5" fill="#a9b8f2" opacity="0.5"/>
<circle cx="319.7" cy="215.1" r="0.5" fill="#a9b8f2" opacity="0.5"/>
<circle cx="319.9" cy="221.0" r="0.5" fill="#8fa6ee" opacity="0.5"/>
<circle cx="319.5" cy="214.3" r="0.5" fill="#8fa6ee" opacity="0.5"/>
<circle cx="322.8" cy="221.2" r="0.5" fill="#8fa6ee" opacity="0.5"/>
<circle cx="322.6" cy="221.2" r="0.5" fill="#a9b8f2" opacity="0.5"/>
<circle cx="321.7" cy="226.3" r="0.5" fill="#6f86e8" opacity="0.5"/>
<circle cx="320.8" cy="213.8" r="0.5" fill="#b9c2f4" opacity="0.5"/>
<circle cx="323.0" cy="219.0" r="0.5" fill="#b9c2f4" opacity="0.5"/>
<circle cx="320.6" cy="214.2" r="0.5" fill="#7d8fe6" opacity="0.5"/>
<path d="M320.4,194.6 L322.4,196.5 L322.8,199.5 L321.6,203 L320.8,206.5 L320.6,209.8 L319.2,209.8 L318.4,207.4 L317.4,207.8 L316.4,209.8 L313.4,209.8 L313.6,206 L315,201.5 L317.4,197.4 Z" stroke="none" stroke-width="0" fill="#3f74e2"/>
<path d="M320.2,196 L321.8,198.4 L321.4,202 L319.6,205 L317.6,206.4 L315.2,207.6 L315.6,204 L316.8,200.4 L318.4,197.6 Z" stroke="none" stroke-width="0" fill="#2ec4b8"/>
<path d="M320,196.6 L321.4,198.6 L320.8,201.8 L319.2,204 L317.4,204.8 L317.2,202.6 L318.2,199.4 Z" stroke="none" stroke-width="0" fill="#3ee04a"/>
<ellipse cx="319.6" cy="199.8" rx="0.9" ry="1.4" fill="#b8ea3a"/>
<path d="M313.6,209 L316.4,209 L316.6,213 L313.8,213 Z M318.4,208 L320.8,208 L320.4,212 L318.2,212 Z" fill="#4a7ee2"/>
<rect x="311.6" y="211.8" width="5.2" height="20.4" rx="0.8" fill="#4a7ee2" opacity="0.9"/>
<rect x="312.3" y="213.4" width="3.9" height="17.2" rx="1" fill="#6cc6dc"/>
<ellipse cx="314.4" cy="221.4" rx="1.6" ry="4.4" fill="#58d258"/>
<ellipse cx="314.4" cy="221.6" rx="0.8" ry="1.8" fill="#c4e23e"/>
<path d="M317.1,209.8 L320.6,209.8 L320.2,220 L319.4,226.8 L317.1,227.4 Z" fill="#4a74e2"/>
<path d="M318.0,212 L319.4,212 L319.2,222 L318.0,224 Z" fill="#8fb0ee"/>
</g>
<g filter="url(#bl)">
<circle cx="406.0" cy="232.9" r="0.5" fill="#a9b8f2" opacity="0.55"/>
<circle cx="403.4" cy="230.9" r="0.5" fill="#6f86e8" opacity="0.55"/>
<circle cx="401.7" cy="234.3" r="0.5" fill="#8fa6ee" opacity="0.55"/>
<circle cx="406.2" cy="231.6" r="0.5" fill="#8fa6ee" opacity="0.55"/>
<circle cx="405.5" cy="231.3" r="0.5" fill="#7d8fe6" opacity="0.55"/>
<circle cx="407.9" cy="232.0" r="0.5" fill="#a9b8f2" opacity="0.55"/>
<circle cx="403.6" cy="235.0" r="0.5" fill="#7d8fe6" opacity="0.55"/>
<circle cx="404.8" cy="233.8" r="0.5" fill="#a9b8f2" opacity="0.55"/>
<circle cx="406.8" cy="235.2" r="0.5" fill="#a9b8f2" opacity="0.55"/>
<circle cx="399.8" cy="232.9" r="0.5" fill="#8fa6ee" opacity="0.55"/>
<circle cx="408.9" cy="235.0" r="0.5" fill="#b9c2f4" opacity="0.55"/>
<circle cx="400.5" cy="234.3" r="0.5" fill="#7d8fe6" opacity="0.55"/>
<circle cx="402.6" cy="236.1" r="0.5" fill="#7d8fe6" opacity="0.55"/>
<circle cx="408.5" cy="232.1" r="0.5" fill="#a9b8f2" opacity="0.55"/>
<circle cx="398.7" cy="232.8" r="0.5" fill="#7d8fe6" opacity="0.55"/>
<circle cx="399.9" cy="233.9" r="0.5" fill="#6f86e8" opacity="0.55"/>
<circle cx="407.2" cy="232.9" r="0.5" fill="#7d8fe6" opacity="0.55"/>
<circle cx="406.7" cy="230.1" r="0.5" fill="#8fa6ee" opacity="0.55"/>
<circle cx="408.0" cy="235.0" r="0.5" fill="#a9b8f2" opacity="0.55"/>
<circle cx="403.0" cy="230.7" r="0.5" fill="#7d8fe6" opacity="0.55"/>
<circle cx="398.5" cy="236.1" r="0.5" fill="#b9c2f4" opacity="0.55"/>
<circle cx="402.8" cy="234.7" r="0.5" fill="#8fa6ee" opacity="0.55"/>
<circle cx="405.8" cy="230.7" r="0.5" fill="#a9b8f2" opacity="0.55"/>
<circle cx="397.8" cy="233.6" r="0.5" fill="#b9c2f4" opacity="0.55"/>
<circle cx="406.8" cy="230.5" r="0.5" fill="#6f86e8" opacity="0.55"/>
<circle cx="408.8" cy="234.1" r="0.5" fill="#7d8fe6" opacity="0.55"/>
<circle cx="399.3" cy="233.3" r="0.5" fill="#8fa6ee" opacity="0.55"/>
<circle cx="397.7" cy="236.3" r="0.5" fill="#8fa6ee" opacity="0.55"/>
<circle cx="403.6" cy="236.0" r="0.5" fill="#b9c2f4" opacity="0.55"/>
<circle cx="408.8" cy="230.9" r="0.5" fill="#a9b8f2" opacity="0.55"/>
<circle cx="404.3" cy="213.7" r="0.5" fill="#6f86e8" opacity="0.5"/>
<circle cx="405.2" cy="219.3" r="0.5" fill="#7d8fe6" opacity="0.5"/>
<circle cx="406.4" cy="223.0" r="0.5" fill="#8fa6ee" opacity="0.5"/>
<circle cx="407.8" cy="215.8" r="0.5" fill="#b9c2f4" opacity="0.5"/>
<circle cx="406.8" cy="222.7" r="0.5" fill="#6f86e8" opacity="0.5"/>
<circle cx="405.9" cy="224.3" r="0.5" fill="#6f86e8" opacity="0.5"/>
<circle cx="404.7" cy="212.8" r="0.5" fill="#6f86e8" opacity="0.5"/>
<circle cx="404.3" cy="217.1" r="0.5" fill="#a9b8f2" opacity="0.5"/>
<circle cx="406.6" cy="222.1" r="0.5" fill="#a9b8f2" opacity="0.5"/>
<circle cx="404.9" cy="217.6" r="0.5" fill="#8fa6ee" opacity="0.5"/>
<circle cx="406.4" cy="215.4" r="0.5" fill="#6f86e8" opacity="0.5"/>
<circle cx="406.3" cy="217.7" r="0.5" fill="#8fa6ee" opacity="0.5"/>
<circle cx="407.7" cy="211.4" r="0.5" fill="#a9b8f2" opacity="0.5"/>
<circle cx="405.3" cy="222.1" r="0.5" fill="#6f86e8" opacity="0.5"/>
<circle cx="406.0" cy="210.9" r="0.5" fill="#8fa6ee" opacity="0.5"/>
<circle cx="406.0" cy="219.7" r="0.5" fill="#6f86e8" opacity="0.5"/>
<circle cx="406.6" cy="213.5" r="0.5" fill="#7d8fe6" opacity="0.5"/>
<circle cx="406.0" cy="218.5" r="0.5" fill="#b9c2f4" opacity="0.5"/>
<circle cx="406.2" cy="214.2" r="0.5" fill="#6f86e8" opacity="0.5"/>
<circle cx="407.7" cy="224.6" r="0.5" fill="#7d8fe6" opacity="0.5"/>
<circle cx="407.9" cy="223.9" r="0.5" fill="#a9b8f2" opacity="0.5"/>
<circle cx="407.6" cy="212.6" r="0.5" fill="#8fa6ee" opacity="0.5"/>
<circle cx="403.5" cy="199.0" r="0.5" fill="#a9b8f2" opacity="0.6"/>
<circle cx="403.6" cy="197.8" r="0.5" fill="#7d8fe6" opacity="0.6"/>
<circle cx="405.4" cy="205.4" r="0.5" fill="#a9b8f2" opacity="0.6"/>
<circle cx="406.2" cy="202.6" r="0.5" fill="#7d8fe6" opacity="0.6"/>
<circle cx="402.2" cy="205.2" r="0.5" fill="#b9c2f4" opacity="0.6"/>
<circle cx="402.6" cy="206.0" r="0.5" fill="#b9c2f4" opacity="0.6"/>
<circle cx="405.9" cy="197.3" r="0.5" fill="#a9b8f2" opacity="0.6"/>
<circle cx="402.3" cy="200.2" r="0.5" fill="#6f86e8" opacity="0.6"/>
<circle cx="403.5" cy="200.1" r="0.5" fill="#7d8fe6" opacity="0.6"/>
<circle cx="403.1" cy="203.4" r="0.5" fill="#8fa6ee" opacity="0.6"/>
<circle cx="403.2" cy="200.5" r="0.5" fill="#8fa6ee" opacity="0.6"/>
<circle cx="403.4" cy="201.2" r="0.5" fill="#7d8fe6" opacity="0.6"/>
<circle cx="404.1" cy="196.2" r="0.5" fill="#a9b8f2" opacity="0.6"/>
<circle cx="406.4" cy="196.7" r="0.5" fill="#7d8fe6" opacity="0.6"/>
<circle cx="402.9" cy="205.5" r="0.5" fill="#a9b8f2" opacity="0.6"/>
<circle cx="402.9" cy="196.9" r="0.5" fill="#b9c2f4" opacity="0.6"/>
<circle cx="405.7" cy="202.9" r="0.5" fill="#7d8fe6" opacity="0.6"/>
<circle cx="403.5" cy="201.4" r="0.5" fill="#6f86e8" opacity="0.6"/>
<circle cx="404.4" cy="203.2" r="0.5" fill="#8fa6ee" opacity="0.6"/>
<circle cx="402.9" cy="204.3" r="0.5" fill="#a9b8f2" opacity="0.6"/>
<circle cx="403.6" cy="196.3" r="0.5" fill="#8fa6ee" opacity="0.6"/>
<circle cx="404.7" cy="204.3" r="0.5" fill="#8fa6ee" opacity="0.6"/>
<path d="M403.6,195.6 L406,196 L405.6,201 L404.6,206.8 L402.6,206.8 L403.4,201 Z" fill="#a6b4f0" opacity="0.8"/>
<rect x="397.9" y="209.4" width="5.3" height="20.2" rx="0.8" fill="#4a7ee2" opacity="0.9"/>
<rect x="398.6" y="211.2" width="3.9" height="17" rx="1" fill="#6cc6dc"/>
<ellipse cx="400.4" cy="218.6" rx="1.5" ry="4.4" fill="#58d258"/>
<ellipse cx="400.4" cy="219" rx="0.8" ry="1.8" fill="#c4e23e"/>
<rect x="404.3" y="209.9" width="3.6" height="15.6" rx="0.6" fill="none" stroke="#5c7ce6" stroke-width="0.9"/>
</g>
<g filter="url(#bl)">
<circle cx="488.5" cy="231.8" r="0.5" fill="#7d8fe6" opacity="0.55"/>
<circle cx="491.4" cy="233.2" r="0.5" fill="#7d8fe6" opacity="0.55"/>
<circle cx="492.9" cy="233.0" r="0.5" fill="#7d8fe6" opacity="0.55"/>
<circle cx="488.6" cy="230.8" r="0.5" fill="#a9b8f2" opacity="0.55"/>
<circle cx="492.3" cy="236.3" r="0.5" fill="#7d8fe6" opacity="0.55"/>
<circle cx="482.1" cy="231.7" r="0.5" fill="#7d8fe6" opacity="0.55"/>
<circle cx="488.7" cy="233.7" r="0.5" fill="#a9b8f2" opacity="0.55"/>
<circle cx="484.8" cy="233.5" r="0.5" fill="#a9b8f2" opacity="0.55"/>
<circle cx="484.6" cy="235.3" r="0.5" fill="#7d8fe6" opacity="0.55"/>
<circle cx="481.9" cy="230.6" r="0.5" fill="#6f86e8" opacity="0.55"/>
<circle cx="487.8" cy="231.6" r="0.5" fill="#b9c2f4" opacity="0.55"/>
<circle cx="484.3" cy="233.2" r="0.5" fill="#b9c2f4" opacity="0.55"/>
<circle cx="489.0" cy="233.8" r="0.5" fill="#b9c2f4" opacity="0.55"/>
<circle cx="492.7" cy="232.3" r="0.5" fill="#a9b8f2" opacity="0.55"/>
<circle cx="492.8" cy="232.6" r="0.5" fill="#a9b8f2" opacity="0.55"/>
<circle cx="486.2" cy="232.6" r="0.5" fill="#8fa6ee" opacity="0.55"/>
<circle cx="491.1" cy="230.6" r="0.5" fill="#7d8fe6" opacity="0.55"/>
<circle cx="486.5" cy="230.8" r="0.5" fill="#b9c2f4" opacity="0.55"/>
<circle cx="491.5" cy="234.5" r="0.5" fill="#7d8fe6" opacity="0.55"/>
<circle cx="488.4" cy="234.7" r="0.5" fill="#8fa6ee" opacity="0.55"/>
<circle cx="486.8" cy="231.4" r="0.5" fill="#b9c2f4" opacity="0.55"/>
<circle cx="481.5" cy="232.7" r="0.5" fill="#7d8fe6" opacity="0.55"/>
<circle cx="492.7" cy="233.8" r="0.5" fill="#a9b8f2" opacity="0.55"/>
<circle cx="481.9" cy="235.8" r="0.5" fill="#a9b8f2" opacity="0.55"/>
<circle cx="485.6" cy="230.5" r="0.5" fill="#b9c2f4" opacity="0.55"/>
<circle cx="482.5" cy="232.2" r="0.5" fill="#a9b8f2" opacity="0.55"/>
<circle cx="484.4" cy="235.2" r="0.5" fill="#8fa6ee" opacity="0.55"/>
<circle cx="484.5" cy="231.0" r="0.5" fill="#b9c2f4" opacity="0.55"/>
<circle cx="488.2" cy="232.9" r="0.5" fill="#7d8fe6" opacity="0.55"/>
<circle cx="485.0" cy="231.9" r="0.5" fill="#6f86e8" opacity="0.55"/>
<circle cx="492.6" cy="224.6" r="0.5" fill="#a9b8f2" opacity="0.5"/>
<circle cx="491.0" cy="222.3" r="0.5" fill="#6f86e8" opacity="0.5"/>
<circle cx="489.6" cy="215.9" r="0.5" fill="#b9c2f4" opacity="0.5"/>
<circle cx="488.4" cy="222.4" r="0.5" fill="#a9b8f2" opacity="0.5"/>
<circle cx="487.8" cy="224.3" r="0.5" fill="#6f86e8" opacity="0.5"/>
<circle cx="490.9" cy="222.6" r="0.5" fill="#6f86e8" opacity="0.5"/>
<circle cx="488.3" cy="219.1" r="0.5" fill="#6f86e8" opacity="0.5"/>
<circle cx="490.6" cy="223.9" r="0.5" fill="#8fa6ee" opacity="0.5"/>
<circle cx="491.9" cy="220.1" r="0.5" fill="#a9b8f2" opacity="0.5"/>
<circle cx="488.0" cy="211.2" r="0.5" fill="#7d8fe6" opacity="0.5"/>
<circle cx="492.6" cy="216.7" r="0.5" fill="#b9c2f4" opacity="0.5"/>
<circle cx="490.5" cy="220.9" r="0.5" fill="#6f86e8" opacity="0.5"/>
<circle cx="491.1" cy="218.6" r="0.5" fill="#8fa6ee" opacity="0.5"/>
<circle cx="490.0" cy="211.7" r="0.5" fill="#6f86e8" opacity="0.5"/>
<circle cx="492.3" cy="212.0" r="0.5" fill="#6f86e8" opacity="0.5"/>
<circle cx="487.9" cy="222.7" r="0.5" fill="#7d8fe6" opacity="0.5"/>
<circle cx="491.8" cy="224.5" r="0.5" fill="#a9b8f2" opacity="0.5"/>
<circle cx="491.4" cy="213.9" r="0.5" fill="#b9c2f4" opacity="0.5"/>
<circle cx="490.2" cy="216.8" r="0.5" fill="#b9c2f4" opacity="0.5"/>
<circle cx="492.3" cy="215.2" r="0.5" fill="#8fa6ee" opacity="0.5"/>
<circle cx="490.8" cy="221.1" r="0.5" fill="#8fa6ee" opacity="0.5"/>
<circle cx="490.7" cy="216.0" r="0.5" fill="#7d8fe6" opacity="0.5"/>
<circle cx="488.7" cy="198.7" r="0.55" fill="#8a9cee" opacity="0.7"/>
<circle cx="484.5" cy="200.5" r="0.55" fill="#5a70e2" opacity="0.7"/>
<circle cx="484.7" cy="199.8" r="0.55" fill="#8a9cee" opacity="0.7"/>
<circle cx="486.2" cy="203.7" r="0.55" fill="#8a9cee" opacity="0.7"/>
<circle cx="487.5" cy="207.0" r="0.55" fill="#5a70e2" opacity="0.7"/>
<circle cx="485.5" cy="209.7" r="0.55" fill="#8a9cee" opacity="0.7"/>
<circle cx="484.1" cy="203.0" r="0.55" fill="#5a70e2" opacity="0.7"/>
<circle cx="491.3" cy="202.8" r="0.55" fill="#8a9cee" opacity="0.7"/>
<circle cx="486.9" cy="208.9" r="0.55" fill="#6a7ee6" opacity="0.7"/>
<circle cx="484.6" cy="198.2" r="0.55" fill="#5a70e2" opacity="0.7"/>
<circle cx="487.9" cy="209.4" r="0.55" fill="#6a7ee6" opacity="0.7"/>
<circle cx="488.5" cy="205.2" r="0.55" fill="#8a9cee" opacity="0.7"/>
<circle cx="490.7" cy="206.1" r="0.55" fill="#6a7ee6" opacity="0.7"/>
<circle cx="487.7" cy="208.4" r="0.55" fill="#8a9cee" opacity="0.7"/>
<circle cx="484.2" cy="197.0" r="0.55" fill="#8a9cee" opacity="0.7"/>
<circle cx="489.1" cy="202.3" r="0.55" fill="#5a70e2" opacity="0.7"/>
<circle cx="485.1" cy="201.5" r="0.55" fill="#8a9cee" opacity="0.7"/>
<circle cx="484.9" cy="201.3" r="0.55" fill="#8a9cee" opacity="0.7"/>
<circle cx="489.6" cy="207.9" r="0.55" fill="#6a7ee6" opacity="0.7"/>
<circle cx="491.0" cy="199.5" r="0.55" fill="#6a7ee6" opacity="0.7"/>
<circle cx="490.8" cy="200.8" r="0.55" fill="#8a9cee" opacity="0.7"/>
<circle cx="484.5" cy="202.1" r="0.55" fill="#5a70e2" opacity="0.7"/>
<circle cx="484.6" cy="209.0" r="0.55" fill="#8a9cee" opacity="0.7"/>
<circle cx="490.4" cy="200.6" r="0.55" fill="#6a7ee6" opacity="0.7"/>
<circle cx="490.3" cy="200.7" r="0.55" fill="#6a7ee6" opacity="0.7"/>
<circle cx="485.9" cy="200.5" r="0.55" fill="#5a70e2" opacity="0.7"/>
<circle cx="486.4" cy="207.1" r="0.55" fill="#8a9cee" opacity="0.7"/>
<circle cx="490.6" cy="207.6" r="0.55" fill="#5a70e2" opacity="0.7"/>
<circle cx="487.0" cy="208.4" r="0.55" fill="#5a70e2" opacity="0.7"/>
<circle cx="488.1" cy="206.4" r="0.55" fill="#6a7ee6" opacity="0.7"/>
<path d="M483.8,210.4 L484.4,204 L485.4,199 L486.8,196.4 L488.6,197 L490,201.5 L491,206 L491.2,210.4 Z" fill="#8a9af0" opacity="0.9"/>
<path d="M485.6,209.6 L486,203.5 L487,199.4 L488.4,203 L489,209.6 Z" fill="#6f84ea"/>
<rect x="481.7" y="210.6" width="5.3" height="19.8" rx="0.8" fill="#4a7ee2" opacity="0.9"/>
<rect x="482.4" y="212.4" width="3.9" height="16.6" rx="1" fill="#6cc6dc"/>
<ellipse cx="484.3" cy="221.6" rx="1.5" ry="4.4" fill="#58d258"/>
<ellipse cx="484.3" cy="222" rx="0.8" ry="1.8" fill="#c4e23e"/>
<path d="M487.5,210.2 L491,210.2 L490.6,220 L489.8,227 L487.5,227.4 Z" fill="#7c8ce8" opacity="0.75"/>
</g>
<rect x="311.3" y="194.2" width="16.00" height="15.10" fill="none" stroke="#707070" stroke-width="0.65"/>
<rect x="311.3" y="211.8" width="5.50" height="20.40" fill="none" stroke="#707070" stroke-width="0.65"/>
<rect x="316.8" y="209.7" width="6.50" height="17.90" fill="none" stroke="#707070" stroke-width="0.65"/>
<rect x="396.7" y="192.6" width="15.70" height="14.70" fill="none" stroke="#707070" stroke-width="0.65"/>
<rect x="397.6" y="209.2" width="5.80" height="20.40" fill="none" stroke="#707070" stroke-width="0.65"/>
<rect x="403.7" y="209.2" width="4.80" height="16.80" fill="none" stroke="#707070" stroke-width="0.65"/>
<rect x="481.4" y="195.4" width="15.60" height="14.50" fill="none" stroke="#707070" stroke-width="0.65"/>
<rect x="481.4" y="210.4" width="5.80" height="20.20" fill="none" stroke="#707070" stroke-width="0.65"/>
<rect x="487.2" y="209.8" width="6.00" height="17.90" fill="none" stroke="#707070" stroke-width="0.65"/>
<text x="319.20" y="193.00" font-size="7.5" font-weight="bold" text-anchor="middle" fill="#111">44.83</text>
<text x="299.60" y="225.60" font-size="7.5" font-weight="bold" text-anchor="middle" fill="#111">40.88</text>
<text x="334.90" y="220.40" font-size="7.5" font-weight="bold" text-anchor="middle" fill="#111">7.78</text>
<text x="404.40" y="191.00" font-size="7.5" font-weight="bold" text-anchor="middle" fill="#111">9.51</text>
<text x="387.70" y="223.80" font-size="7.5" font-weight="bold" text-anchor="middle" fill="#111">70.31</text>
<text x="418.10" y="221.40" font-size="7.5" font-weight="bold" text-anchor="middle" fill="#111">9.47</text>
<text x="488.70" y="194.00" font-size="7.5" font-weight="bold" text-anchor="middle" fill="#111">8.22</text>
<text x="471.50" y="224.80" font-size="7.5" font-weight="bold" text-anchor="middle" fill="#111">69.41</text>
<text x="500.60" y="223.80" font-size="7.5" font-weight="bold" text-anchor="middle" fill="#111">7.97</text>
<text x="291.80" y="258.80" font-size="7.6" font-weight="bold" textLength="48.60" lengthAdjust="spacingAndGlyphs"><tspan font-style="italic">luciferase</tspan> shRNA</text>
<text x="379.00" y="258.80" font-size="7.6" font-weight="bold" textLength="47.00" lengthAdjust="spacingAndGlyphs"><tspan font-style="italic">RPS14</tspan> shRNA #1</text>
<text x="464.10" y="258.80" font-size="7.6" font-weight="bold" textLength="44.70" lengthAdjust="spacingAndGlyphs"><tspan font-style="italic">RPS19</tspan> shRNA #1</text>
<path d="M257.9,231.0 L257.9,256.4 L282.0,256.4" stroke="#222" stroke-width="1.2" fill="none"/>
<path d="M255.3,234.6 L257.9,230.4 L260.5,234.6" stroke="#222" stroke-width="1.1" fill="none" stroke-linejoin="miter"/>
<path d="M278.4,253.8 L282.6,256.4 L278.4,259.0" stroke="#222" stroke-width="1.1" fill="none" stroke-linejoin="miter"/>
<text x="255.60" y="256.00" font-size="6.6" font-weight="bold" fill="#222" textLength="13.40" lengthAdjust="spacingAndGlyphs" transform="rotate(-90 255.60 256.00)">BrdU</text>
<text x="260.10" y="264.30" font-size="5.8" font-weight="bold" fill="#222" textLength="17.70" lengthAdjust="spacingAndGlyphs">7-AAD</text>
</svg>
</body></html>
